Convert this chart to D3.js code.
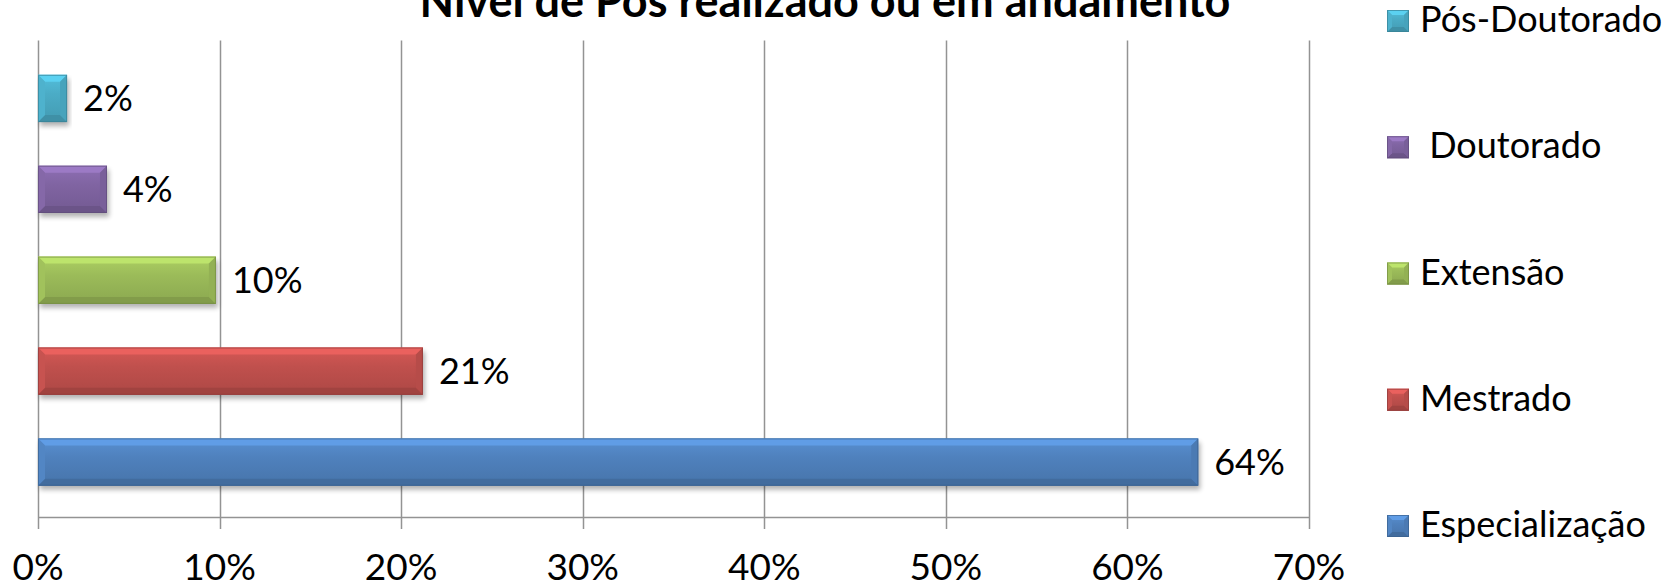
<!DOCTYPE html>
<html>
<head>
<meta charset="utf-8">
<script src="https://cdn.jsdelivr.net/npm/d3@7"></script>
<style>
  html, body { margin: 0; padding: 0; background: #fff; }
  svg { display: block; font-family: Lato, "Open Sans", sans-serif; }
</style>
</head>
<body>
<div id="chart"></div>
<script>
const categories = ['Pós-Doutorado', 'Doutorado', 'Extensão', 'Mestrado', 'Especialização']
const legendNames = ['Pós-Doutorado', ' Doutorado', 'Extensão', 'Mestrado', 'Especialização']
const values = [0.016, 0.038, 0.098, 0.212, 0.639]
const colors = ['#4BACC6', '#8064A2', '#9BBB59', '#C0504D', '#4F81BD']
const xTicks = [0, 0.1, 0.2, 0.3, 0.4, 0.5, 0.6, 0.7]
const title = 'Nível de Pós realizado ou em andamento'

const width = 1669
const height = 587
const margin = { left: 38, right: 360, top: 40.5, bottom: 70 }
const axisY = height - margin.bottom   // 517

const data = categories.map((c, i) => ({ cat: c, value: values[i], color: colors[i], name: legendNames[i] }))

const svg = d3.select('#chart')
  .append('svg')
  .attr('width', width)
  .attr('height', height)

const defs = svg.append('defs')

data.forEach((d, i) => {
  const base = d3.color(d.color)
  const g = defs.append('linearGradient')
    .attr('id', 'grad' + i)
    .attr('x1', 0).attr('y1', 0).attr('x2', 0).attr('y2', 1)
  g.append('stop').attr('offset', '0%').attr('stop-color', base.brighter(0.3))
  g.append('stop').attr('offset', '40%').attr('stop-color', base)
  g.append('stop').attr('offset', '100%').attr('stop-color', base.darker(0.3))
})

const blur = defs.append('filter').attr('id', 'shadow')
  .attr('x', '-10%').attr('y', '-30%').attr('width', '120%').attr('height', '160%')
blur.append('feGaussianBlur').attr('stdDeviation', 2.5)

const x = d3.scaleLinear().domain([0, 0.7]).range([margin.left, 1309])
const y = d3.scaleBand().domain(categories).range([53, 507.5]).paddingInner(0.48).paddingOuter(0.24)

// grid + ticks
const grid = svg.append('g').attr('class', 'grid')
grid.selectAll('line')
  .data(xTicks)
  .join('line')
  .attr('x1', d => Math.round(x(d)) + 0.5)
  .attr('x2', d => Math.round(x(d)) + 0.5)
  .attr('y1', margin.top)
  .attr('y2', axisY + 12)
  .attr('stroke', '#939393')
  .attr('stroke-width', 1.5)

svg.append('line')
  .attr('x1', x(0))
  .attr('x2', x(0.7) + 1)
  .attr('y1', axisY + 0.5)
  .attr('y2', axisY + 0.5)
  .attr('stroke', '#939393')
  .attr('stroke-width', 1.5)

svg.append('g')
  .selectAll('text')
  .data(xTicks)
  .join('text')
  .attr('x', d => x(d))
  .attr('y', 580)
  .attr('text-anchor', 'middle')
  .attr('font-size', 37)
  .attr('fill', '#000')
  .text(d3.format('.0%'))

// bevelled bar
function bevel(g, x0, y0, x1, y1, color, b) {
  const base = d3.color(color)
  g.append('polygon')
    .attr('points', [[x0, y0], [x1, y0], [x1 - b, y0 + b], [x0 + b, y0 + b]].join(' '))
    .attr('fill', base.brighter(0.55))
  g.append('polygon')
    .attr('points', [[x0, y1], [x1, y1], [x1 - b, y1 - b], [x0 + b, y1 - b]].join(' '))
    .attr('fill', base.darker(0.5))
  g.append('polygon')
    .attr('points', [[x0, y0], [x0 + b, y0 + b], [x0 + b, y1 - b], [x0, y1]].join(' '))
    .attr('fill', base.brighter(0.1))
  g.append('polygon')
    .attr('points', [[x1, y0], [x1 - b, y0 + b], [x1 - b, y1 - b], [x1, y1]].join(' '))
    .attr('fill', base.darker(0.15))
  g.append('rect')
    .attr('x', x0 + 0.5).attr('y', y0 + 0.5)
    .attr('width', Math.max(0, x1 - x0 - 1)).attr('height', y1 - y0 - 1)
    .attr('fill', 'none')
    .attr('stroke', base.darker(0.8))
    .attr('stroke-opacity', 0.7)
    .attr('stroke-width', 1)
}

const bars = svg.append('g').attr('class', 'bars')
  .selectAll('g')
  .data(data)
  .join('g')

bars.append('rect')
  .attr('x', x(0) + 2)
  .attr('y', d => y(d.cat) + 4)
  .attr('width', d => x(d.value) - x(0))
  .attr('height', y.bandwidth())
  .attr('fill', '#000')
  .attr('opacity', 0.3)
  .attr('filter', 'url(#shadow)')

bars.append('rect')
  .attr('x', x(0))
  .attr('y', d => y(d.cat))
  .attr('width', d => x(d.value) - x(0))
  .attr('height', y.bandwidth())
  .attr('fill', (d, i) => `url(#grad${i})`)

bars.each(function (d) {
  bevel(d3.select(this), x(0), y(d.cat), x(d.value), y(d.cat) + y.bandwidth(), d.color, 7)
})

bars.append('text')
  .attr('x', d => x(d.value) + 16)
  .attr('y', d => y(d.cat) + y.bandwidth() / 2)
  .attr('dy', '0.36em')
  .attr('font-size', 36)
  .attr('fill', '#000')
  .text(d => d3.format('.0%')(d.value))

// title
svg.append('text')
  .attr('x', 825)
  .attr('y', 17)
  .attr('text-anchor', 'middle')
  .attr('font-size', 45)
  .attr('font-weight', 'bold')
  .attr('fill', '#000')
  .text(title)

// legend
const ly = d3.scalePoint().domain(categories).range([32, 537])
const legend = svg.append('g').attr('class', 'legend')
  .selectAll('g')
  .data(data)
  .join('g')
  .attr('transform', d => `translate(1387, ${ly(d.cat)})`)

legend.append('rect')
  .attr('x', 0).attr('y', -22)
  .attr('width', 22).attr('height', 22)
  .attr('fill', (d, i) => `url(#grad${i})`)

legend.each(function (d) {
  bevel(d3.select(this), 0, -22, 22, 0, d.color, 5)
})

legend.append('text')
  .attr('x', 33)
  .attr('y', 0)
  .attr('font-size', 36)
  .attr('fill', '#000')
  .style('white-space', 'pre')
  .text(d => d.name)
</script>
</body>
</html>
